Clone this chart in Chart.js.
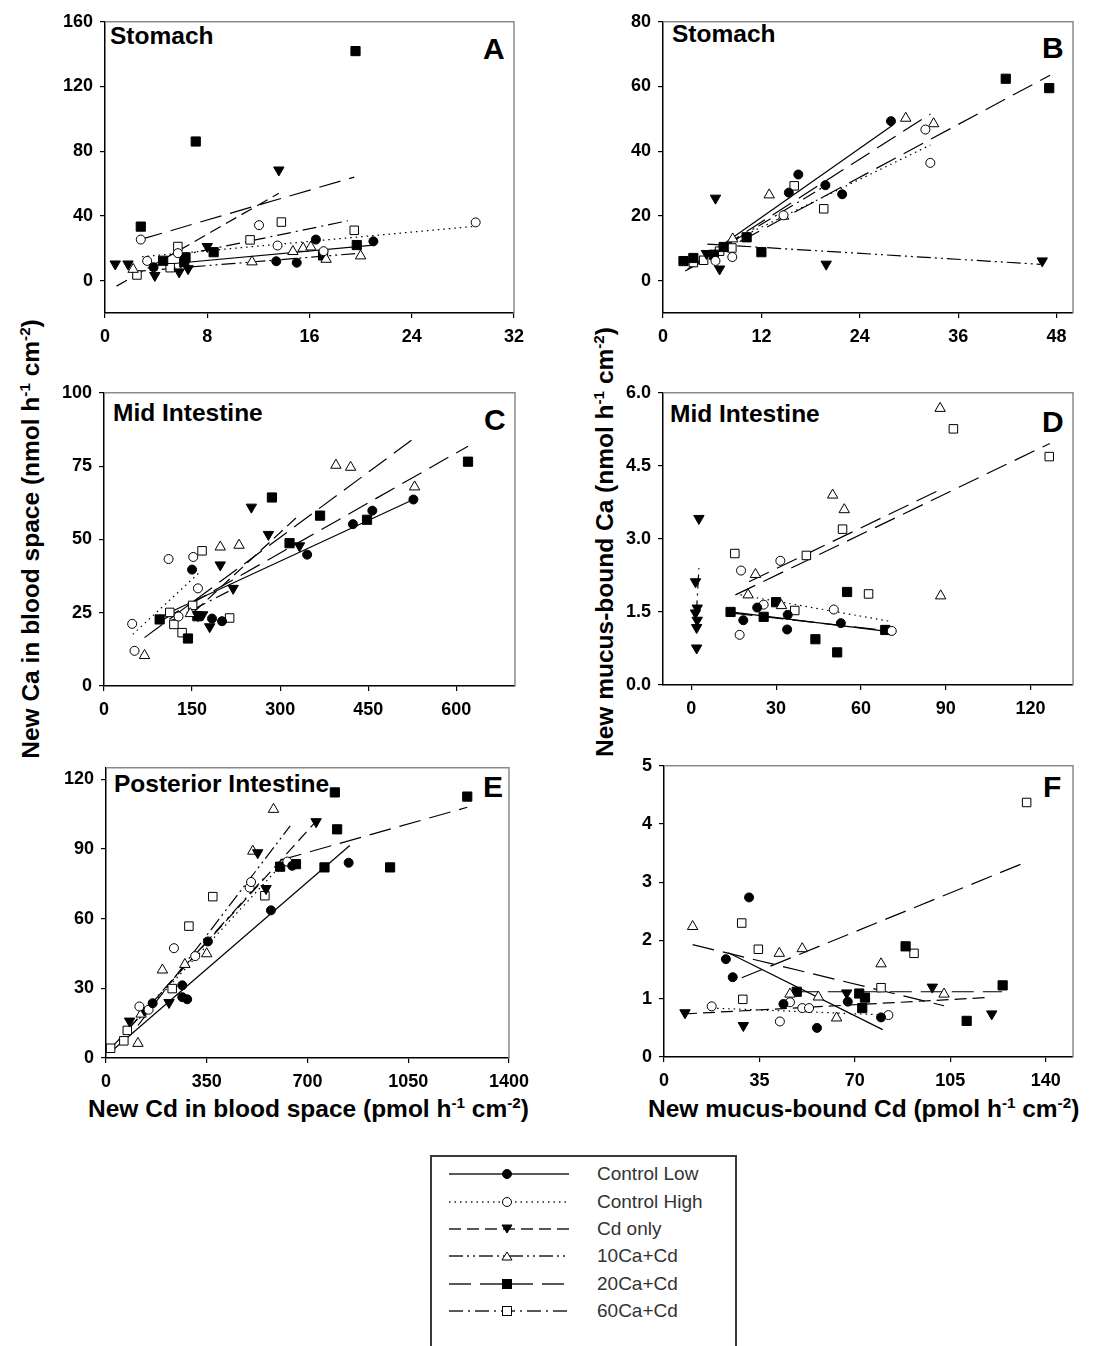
<!DOCTYPE html>
<html>
<head>
<meta charset="utf-8">
<script src="https://cdn.jsdelivr.net/npm/chart.js@4.4.0/dist/chart.umd.min.js"></script>
<style>
  body { margin: 0; width: 1094px; height: 1346px; overflow: hidden; background: #fff; position: relative;
         font-family: "Liberation Sans", Arial, sans-serif; }
  canvas { position: absolute; }
  .t { position: absolute; font-weight: bold; color: #000; white-space: nowrap; line-height: 1; }
  .ttl { font-size: 24.5px; }
  .let { font-size: 30px; }
  .ax { font-size: 24.5px; }
  .rot { transform: translate(-50%, -50%) rotate(-90deg); }
  sup { font-size: 0.62em; vertical-align: 0.6em; line-height: 0; }
  #legend { position: absolute; left: 430px; top: 1155px; width: 303px; height: 210px; border: 2px solid #3a3a3a; }
  .lrow { position: absolute; left: 15px; height: 20px; }
  .lrow svg { position: absolute; left: 0; top: 0; }
  .lrow span { position: absolute; left: 150px; top: 0; font-size: 19px; color: #333; white-space: nowrap; line-height: 20px; }
</style>
</head>
<body>

<div class="t ttl" style="left:110px; top:24px;">Stomach</div>
<div class="t let" style="left:483px; top:34px;">A</div>
<div class="t ttl" style="left:672px; top:22px;">Stomach</div>
<div class="t let" style="left:1042px; top:33px;">B</div>
<div class="t ttl" style="left:113px; top:401px;">Mid Intestine</div>
<div class="t let" style="left:484px; top:405px;">C</div>
<div class="t ttl" style="left:670px; top:402px;">Mid Intestine</div>
<div class="t let" style="left:1042px; top:407px;">D</div>
<div class="t ttl" style="left:114px; top:772px;">Posterior Intestine</div>
<div class="t let" style="left:483px; top:772px;">E</div>
<div class="t let" style="left:1043px; top:772px;">F</div>

<div class="t ax rot" style="left:31px; top:539px;">New Ca in blood space (nmol h<sup>-1</sup> cm<sup>-2</sup>)</div>
<div class="t ax rot" style="left:605px; top:542px;">New mucus-bound Ca (nmol h<sup>-1</sup> cm<sup>-2</sup>)</div>
<div class="t ax" style="left:88px; top:1097px;">New Cd in blood space (pmol h<sup>-1</sup> cm<sup>-2</sup>)</div>
<div class="t ax" style="left:648px; top:1097px;">New mucus-bound Cd (pmol h<sup>-1</sup> cm<sup>-2</sup>)</div>

<div id="legend"></div>

<script>
// groups, in the order used by every points / fits list below
const seriesNames = ['Control Low', 'Control High', 'Cd only', '10Ca+Cd', '20Ca+Cd', '60Ca+Cd'];

// tick labels
const aXTicks = [0, 8, 16, 24, 32];
const aYTicks = [0, 40, 80, 120, 160];
const bXTicks = [0, 12, 24, 36, 48];
const bYTicks = [0, 20, 40, 60, 80];
const cXTicks = [0, 150, 300, 450, 600];
const cYTicks = [0, 25, 50, 75, 100];
const dXTicks = [0, 30, 60, 90, 120];
const dYTicks = [0, 1.5, 3, 4.5, 6];
const eXTicks = [0, 350, 700, 1050, 1400];
const eYTicks = [0, 30, 60, 90, 120];
const fXTicks = [0, 35, 70, 105, 140];
const fYTicks = [0, 1, 2, 3, 4, 5];

// A - stomach, blood space
const aPoints = [
  [[3.8, 8.3], [13.4, 12], [15, 11.1], [16.5, 25.4], [21, 24.3]],
  [[2.8, 25.4], [3.3, 12.2], [5.7, 17], [12.05, 34.3], [13.5, 21.7], [17.1, 18.2], [29, 36]],
  [[0.8, 10.3], [1.8, 10.3], [3.9, 3.2], [5.8, 5.4], [6.5, 7.4], [8.0, 21.1], [13.6, 68.4]],
  [[2.2, 7], [11.5, 11.6], [14.7, 18], [15.5, 20], [16.1, 20.8], [17.3, 13.2], [20, 15.3]],
  [[2.8, 33.4], [4.55, 12.3], [6.3, 14.4], [6.2, 11.5], [7.1, 86], [8.5, 17.6], [17.06, 15.6], [19.7, 22], [19.6, 141.9]],
  [[2.5, 3.5], [5.1, 8], [5.7, 21.1], [11.35, 25.2], [13.8, 36.2], [19.5, 31.1]]
];
const aFits = [
  [3.9, 9.5, 21, 21.9],
  [2.9, 14.8, 28.8, 33.5],
  [0.9, -3.4, 13.6, 54],
  [2.1, 5.5, 20, 17],
  [2.8, 25.5, 19.5, 64],
  [5.5, 15, 19, 37]
];

// B - stomach, mucus
const bPoints = [
  [[15.35, 27.2], [16.5, 32.8], [19.8, 29.5], [21.85, 26.7], [27.8, 49.3]],
  [[6.4, 6.1], [8.45, 7.3], [14.7, 20.2], [32, 46.7], [32.6, 36.4]],
  [[5.3, 8.4], [6.4, 25.5], [6.9, 3.6], [19.9, 5.1], [46.25, 6.1]],
  [[8.5, 12.9], [12.95, 26.5], [14.7, 19.9], [29.6, 50.2], [33, 48.5]],
  [[2.5, 6.05], [3.7, 7], [6.2, 8], [7.4, 10.4], [10.2, 13.4], [12.0, 8.8], [41.8, 62.4], [47.1, 59.5]],
  [[3.7, 5.6], [4.95, 6.3], [6.9, 9.1], [8.4, 10.1], [16, 29.3], [19.6, 22.2]]
];
const bFits = [
  [3, 3.5, 28, 48],
  [8.4, 12.1, 32.6, 41.9],
  [5.4, 11.3, 46, 5.05],
  [7, 10, 32.6, 51.5],
  [2.7, 3, 47.2, 63.5],
  [3.5, 4.5, 19.6, 29]
];

// C - mid intestine, blood space
const cPoints = [
  [[150, 39.7], [184, 23], [201, 22.1], [346, 44.8], [424, 55.2], [457, 59.8], [527, 63.6]],
  [[48, 21.2], [52, 12], [110, 43.3], [127, 23.7], [152, 44], [160, 33.3]],
  [[160, 24], [168, 24.3], [180, 20.2], [198, 41.3], [220, 33.3], [251, 61], [280, 51.7], [333, 47.8]],
  [[69, 10.4], [147, 24.7], [198, 47.4], [230, 48], [395, 75.3], [420, 74.6], [529, 67.9]],
  [[94.8, 22.7], [143, 16.2], [159, 23.8], [286, 64.3], [316, 48.7], [368, 58.1], [448, 56.7], [620, 76.5]],
  [[112, 25.1], [119, 21], [133, 18.2], [151, 27.5], [167, 46.1], [214, 23.2]]
];
const cFits = [
  [103, 24.3, 527, 63.6],
  [49, 17.6, 163, 38.8],
  [154, 25.4, 327, 57.3],
  [69, 16.5, 529, 84.6],
  [95, 22, 620, 81.8],
  [112, 22, 219, 33]
];

// D - mid intestine, mucus
const dPoints = [
  [[18.4, 1.33], [23.3, 1.59], [34.1, 1.44], [33.9, 1.14], [52.9, 1.27]],
  [[17.1, 1.03], [17.6, 2.35], [25.6, 1.65], [31.5, 2.55], [50.4, 1.55], [70.9, 1.11]],
  [[1.9, 0.76], [1.9, 1.18], [2.1, 1.33], [1.5, 1.48], [2.1, 1.58], [1.5, 2.12], [2.7, 3.42]],
  [[20.1, 1.85], [22.7, 2.27], [31.9, 1.63], [50, 3.9], [54.1, 3.6], [88, 5.68], [88.2, 1.83]],
  [[13.9, 1.5], [25.6, 1.4], [30, 1.7], [43.9, 0.94], [51.6, 0.67], [55.1, 1.91], [68.6, 1.13]],
  [[15.4, 2.7], [36.6, 1.53], [40.7, 2.66], [53.5, 3.2], [62.7, 1.87], [92.7, 5.26], [126.6, 4.69]]
];
const dFits = [
  [13.9, 1.5, 69.2, 1.1],
  [17.4, 1.85, 71, 1.3],
  [1.8, 1.45, 2.7, 2.4],
  [20.4, 2.12, 88, 4.01],
  [13.9, 1.48, 68.6, 1.12],
  [15.6, 1.85, 126.8, 4.96]
];

// E - posterior intestine, blood space
const ePoints = [
  [[162, 23.6], [265, 31.3], [265, 26.2], [282, 25.3], [354, 50.2], [573, 63.6], [647, 82.8], [843, 84.1]],
  [[116, 22.2], [148, 20.8], [236, 47.3], [310, 43.9], [499, 73.4], [504, 75.8], [630, 84.6]],
  [[82, 15.9], [133, 20.6], [219, 23.9], [527, 88.4], [556, 73], [730, 101.8]],
  [[111, 6.3], [122, 18.9], [196, 37.9], [274, 40.3], [350, 44.9], [510, 89.1], [582, 107.1]],
  [[605, 82.4], [660, 83.5], [759, 82.1], [795, 114.4], [803, 98.5], [987, 82.1], [1255, 112.6]],
  [[16, 4.2], [62, 7.4], [74, 11.9], [230, 29.9], [288, 56.8], [371, 69.5], [552, 69.9]]
];
const eFits = [
  [14, 2.4, 847, 91.5],
  [116, 17, 630, 86],
  [82, 13, 730, 102],
  [111, 14, 640, 100],
  [605, 85.2, 1255, 108],
  [16, 4, 552, 78]
];

// F - posterior intestine, mucus
const fPoints = [
  [[22.7, 1.68], [25.2, 1.37], [31.2, 2.74], [43.8, 0.91], [56.1, 0.5], [67.4, 0.95], [79.6, 0.68]],
  [[17.5, 0.87], [42.5, 0.61], [46.2, 0.94], [50.7, 0.84], [53.2, 0.84], [82.3, 0.72]],
  [[7.7, 0.76], [29.1, 0.54], [67, 1.1], [98.4, 1.2], [120.2, 0.74]],
  [[10.5, 2.24], [42.3, 1.78], [46.2, 1.08], [50.7, 1.86], [56.6, 1.03], [63.3, 0.67], [79.6, 1.6], [102.7, 1.08]],
  [[48.7, 1.12], [71.6, 1.09], [72.7, 0.84], [73.7, 1.02], [88.6, 1.9], [111, 0.62], [124.2, 1.23]],
  [[28.5, 2.3], [28.9, 0.99], [34.6, 1.85], [79.6, 1.19], [91.7, 1.78], [133, 4.37]]
];
const fFits = [
  [23.6, 1.79, 80.2, 0.47],
  [17.5, 0.84, 82.3, 0.72],
  [7.7, 0.74, 118.3, 1.02],
  [10.5, 1.93, 102.7, 0.88],
  [48.7, 1.12, 124, 1.12],
  [28.5, 1.36, 133, 3.35]
];

// look of each group
const SOLID = [], DOTS = [1.5, 4], DASH = [12, 6], DASH_DOT_DOT = [14, 4, 2, 4, 2, 4], LONG = [22, 9], DASH_DOT = [14, 5, 2, 5];
const dashes = [SOLID, DOTS, DASH, DASH_DOT_DOT, LONG, DASH_DOT];
const markers = [
  { style: 'circle', filled: true, rot: 0, r: 4.5 },
  { style: 'circle', filled: false, rot: 0, r: 4.5 },
  { style: 'triangle', filled: true, rot: 180, r: 6 },
  { style: 'triangle', filled: false, rot: 0, r: 6 },
  { style: 'rect', filled: true, rot: 0, r: 6.5 },
  { style: 'rect', filled: false, rot: 0, r: 6 }
];

const AXIS_W = 60, AXIS_H = 40, PAD_T = 12, PAD_R = 22;
const FONT_FAMILY = "'Liberation Sans', Arial, sans-serif";
Chart.defaults.font.family = FONT_FAMILY;
Chart.defaults.font.size = 18;
Chart.defaults.font.weight = 'bold';
const tickFont = { family: FONT_FAMILY, size: 18, weight: 'bold' };

const panels = [
  { box: [105, 16, 514, 313], pts: aPoints, fits: aFits, xr: [0, 32], yr: [-20, 160], xt: aXTicks, yt: aYTicks },
  { box: [663, 16, 1073, 313], pts: bPoints, fits: bFits, xr: [0, 50], yr: [-10, 80], xt: bXTicks, yt: bYTicks,
    dash: { 2: DASH_DOT_DOT, 3: LONG } },
  { box: [104, 387, 515, 686], pts: cPoints, fits: cFits, xr: [0, 700], yr: [0, 100], xt: cXTicks, yt: cYTicks,
    dash: { 3: LONG } },
  { box: [663, 387, 1073, 685], pts: dPoints, fits: dFits, xr: [-10, 135], yr: [0, 6], xt: dXTicks, yt: dYTicks, yFix: 1,
    dash: { 2: DASH_DOT, 3: LONG, 5: LONG } },
  { box: [106, 762, 515, 1058], pts: ePoints, fits: eFits, xr: [0, 1400], yr: [0, 125], xt: eXTicks, yt: eYTicks },
  { box: [664, 760, 1073, 1057], pts: fPoints, fits: fFits, xr: [0, 150], yr: [0, 5], xt: fXTicks, yt: fYTicks,
    dash: { 3: LONG, 5: LONG } }
];

// grey top/right edges of each plot box
const framePlugin = {
  id: 'frame',
  beforeDatasetsDraw(chart) {
    const { ctx, chartArea: a } = chart;
    ctx.save();
    ctx.strokeStyle = '#8a8a8a';
    ctx.lineWidth = 1.5;
    ctx.beginPath();
    ctx.moveTo(a.left, a.top);
    ctx.lineTo(a.right, a.top);
    ctx.lineTo(a.right, a.bottom);
    ctx.stroke();
    ctx.restore();
  }
};

function axis(min, max, ticks, isX, fix) {
  return {
    type: 'linear',
    min: min,
    max: max,
    afterFit: s => { if (isX) s.height = AXIS_H; else s.width = AXIS_W; },
    afterBuildTicks: s => { s.ticks = ticks.map(v => ({ value: v })); },
    grid: { drawOnChartArea: false, drawTicks: true, tickLength: 5, color: '#000', lineWidth: 1.2 },
    border: { color: '#000', width: 1.5 },
    ticks: {
      color: '#000',
      font: tickFont,
      padding: isX ? 8 : 7,
      maxRotation: 0,
      autoSkip: false,
      callback: v => fix ? v.toFixed(fix) : v
    }
  };
}

function buildPanel(p) {
  const [l, t, r, b] = p.box;
  const cv = document.createElement('canvas');
  cv.width = r - l + AXIS_W + PAD_R;
  cv.height = b - t + PAD_T + AXIS_H;
  cv.style.left = (l - AXIS_W) + 'px';
  cv.style.top = (t - PAD_T) + 'px';
  document.body.appendChild(cv);

  const datasets = [];
  p.pts.forEach((list, i) => {
    const m = markers[i];
    datasets.push({
      label: seriesNames[i],
      data: list.map(([x, y]) => ({ x, y })),
      pointStyle: m.style,
      pointRotation: m.rot,
      pointRadius: m.r,
      pointBackgroundColor: m.filled ? '#000' : '#fff',
      pointBorderColor: '#000',
      pointBorderWidth: 1,
      showLine: false
    });
  });
  p.fits.forEach((f, i) => {
    const d = (p.dash && p.dash[i]) || dashes[i];
    datasets.push({
      label: seriesNames[i] + ' fit',
      data: [{ x: f[0], y: f[1] }, { x: f[2], y: f[3] }],
      showLine: true,
      pointRadius: 0,
      borderColor: '#000',
      borderWidth: 1.2,
      borderDash: d,
      fill: false
    });
  });

  new Chart(cv, {
    type: 'scatter',
    data: { datasets },
    options: {
      responsive: false,
      animation: false,
      layout: { padding: { top: PAD_T, right: PAD_R, left: 0, bottom: 0 } },
      plugins: { legend: { display: false }, tooltip: { enabled: false } },
      scales: {
        x: axis(p.xr[0], p.xr[1], p.xt, true),
        y: axis(p.yr[0], p.yr[1], p.yt, false, p.yFix)
      }
    },
    plugins: [framePlugin]
  });
}

// legend box under the panels
function buildLegend() {
  const box = document.getElementById('legend');
  const rowY = [17, 45, 72, 99, 127, 154];
  seriesNames.forEach((name, i) => {
    const m = markers[i];
    const row = document.createElement('div');
    row.className = 'lrow';
    row.style.top = (rowY[i] - 10) + 'px';
    const fill = m.filled ? '#000' : '#fff';
    let mk;
    if (m.style === 'circle') {
      mk = `<circle cx="60" cy="10" r="4.5" fill="${fill}" stroke="#000" stroke-width="1"/>`;
    } else if (m.style === 'rect') {
      mk = `<rect x="55.5" y="5.5" width="9" height="9" fill="${fill}" stroke="#000" stroke-width="1"/>`;
    } else if (m.rot) {
      mk = `<polygon points="55,6 65,6 60,14" fill="${fill}" stroke="#000" stroke-width="1"/>`;
    } else {
      mk = `<polygon points="55,14 65,14 60,6" fill="${fill}" stroke="#000" stroke-width="1"/>`;
    }
    const dash = dashes[i].length ? `stroke-dasharray="${dashes[i].join(' ')}"` : '';
    row.innerHTML = `<svg width="124" height="20"><line x1="2" y1="10" x2="122" y2="10" stroke="#222" stroke-width="1.6" ${dash}/>${mk}</svg><span>${name}</span>`;
    box.appendChild(row);
  });
}

panels.forEach(buildPanel);
buildLegend();
</script>
</body>
</html>
